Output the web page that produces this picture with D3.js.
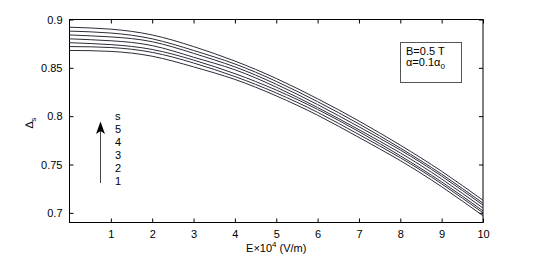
<!DOCTYPE html>
<html>
<head>
<meta charset="utf-8">
<script src="https://cdn.jsdelivr.net/npm/d3@7"></script>
<style>
  body { margin: 0; background: #fff; }
  text { font-family: "Liberation Sans", Arial, sans-serif; }
</style>
</head>
<body>
<div class="chart"></div>
<script>
const W = 534, H = 257;
const margin = {top: 19.5, left: 69.5, right: 51, bottom: 34.5};
const width = W - margin.left - margin.right,
    height = H - margin.top - margin.bottom;

// E (x10^4 V/m)
const eField = [0, 1, 2, 3, 4, 5, 6, 7, 8, 9, 10];
// Delta_s curves, bottom to top
const curve1 = [0.868, 0.867, 0.862, 0.851, 0.838, 0.821, 0.801, 0.778, 0.754, 0.727, 0.697];
const curve2 = [0.872, 0.871, 0.866, 0.855, 0.841, 0.824, 0.804, 0.781, 0.757, 0.730, 0.700];
const curve3 = [0.876, 0.874, 0.869, 0.858, 0.844, 0.827, 0.807, 0.784, 0.759, 0.732, 0.702];
const curve4 = [0.880, 0.878, 0.873, 0.861, 0.848, 0.830, 0.809, 0.786, 0.762, 0.735, 0.705];
const curve5 = [0.884, 0.882, 0.877, 0.865, 0.851, 0.833, 0.812, 0.789, 0.765, 0.738, 0.708];
const curve6 = [0.888, 0.886, 0.880, 0.868, 0.854, 0.836, 0.815, 0.792, 0.767, 0.740, 0.710];
const curve7 = [0.892, 0.890, 0.884, 0.872, 0.857, 0.839, 0.818, 0.795, 0.770, 0.743, 0.713];
const allCurves = [curve1, curve2, curve3, curve4, curve5, curve6, curve7];

const xTicks = [1, 2, 3, 4, 5, 6, 7, 8, 9, 10];
const yTicks = [0.7, 0.75, 0.8, 0.85, 0.9];
const legendLabels = ["s", "5", "4", "3", "2", "1"];

const svg = d3.select(".chart")
    .append("svg")
    .attr("width", W)
    .attr("height", H);

const g = svg.append("g")
    .attr("transform", "translate(" + margin.left + "," + margin.top + ")");

const x = d3.scaleLinear().domain([0, 10]).range([0, width]);
const y = d3.scaleLinear().domain([0.69, 0.9]).range([height, 0]);

// frame
g.append("rect")
    .attr("width", width)
    .attr("height", height)
    .attr("fill", "none")
    .attr("stroke", "#000")
    .attr("stroke-width", 1);

const fmtY = d => d3.format("")(d);

// bottom / left axes with inward ticks
g.append("g")
    .attr("transform", "translate(0," + height + ")")
    .call(d3.axisBottom(x).tickValues(xTicks).tickSizeInner(-4).tickSizeOuter(0).tickPadding(8))
    .call(a => a.select(".domain").remove());
g.append("g")
    .call(d3.axisLeft(y).tickValues(yTicks).tickFormat(fmtY).tickSizeInner(-4).tickSizeOuter(0).tickPadding(7))
    .call(a => a.select(".domain").remove());
// mirrored ticks on top / right
g.append("g")
    .call(d3.axisTop(x).tickValues(xTicks).tickSizeInner(-4).tickSizeOuter(0).tickFormat(""))
    .call(a => a.select(".domain").remove());
g.append("g")
    .attr("transform", "translate(" + width + ",0)")
    .call(d3.axisRight(y).tickValues(yTicks).tickSizeInner(-4).tickSizeOuter(0).tickFormat(""))
    .call(a => a.select(".domain").remove());

g.selectAll(".tick text")
    .attr("font-size", 11)
    .attr("font-family", "Liberation Sans, Arial, sans-serif")
    .attr("fill", "#000");
g.selectAll(".tick line").attr("stroke", "#000");

// curves
const line = d3.line()
    .x((d, i) => x(eField[i]))
    .y(d => y(d))
    .curve(d3.curveNatural);

g.append("g")
    .attr("class", "allCurves")
    .selectAll("path")
    .data(allCurves)
    .join("path")
    .attr("d", line)
    .attr("fill", "none")
    .attr("stroke", "#2b2b3a")
    .attr("stroke-width", 1);

// axis labels
svg.append("text")
    .attr("x", margin.left + x(5))
    .attr("y", 251.5)
    .attr("text-anchor", "middle")
    .attr("font-size", 11)
    .html('E×10<tspan dy="-5" font-size="8">4</tspan><tspan dy="5"> (V/m)</tspan>');

svg.append("text")
    .attr("transform", "translate(33,123) rotate(-90)")
    .attr("text-anchor", "middle")
    .attr("font-size", 11)
    .html('∆<tspan dy="3" font-size="8">s</tspan>');

// parameter box
svg.append("rect")
    .attr("x", 400.5)
    .attr("y", 42.5)
    .attr("width", 61)
    .attr("height", 40)
    .attr("fill", "#fff")
    .attr("stroke", "#555");
svg.append("text")
    .attr("x", 406)
    .attr("y", 54.5)
    .attr("font-size", 11)
    .text("B=0.5 T");
svg.append("text")
    .attr("x", 406)
    .attr("y", 65.5)
    .attr("font-size", 11)
    .html('α=0.1α<tspan dy="3" font-size="8">0</tspan>');

// arrow pointing up (increasing s)
svg.append("line")
    .attr("x1", 100.5).attr("y1", 183)
    .attr("x2", 100.5).attr("y2", 130)
    .attr("stroke", "#444")
    .attr("stroke-width", 1);
svg.append("path")
    .attr("d", "M100.5,121.5 L96,134 L100.5,131 L105,134 Z")
    .attr("fill", "#000");

svg.append("g")
    .selectAll("text")
    .data(legendLabels)
    .join("text")
    .attr("x", 115)
    .attr("y", (d, i) => 119.5 + i * 13.1)
    .attr("font-size", 11)
    .text(d => d);
</script>
</body>
</html>
